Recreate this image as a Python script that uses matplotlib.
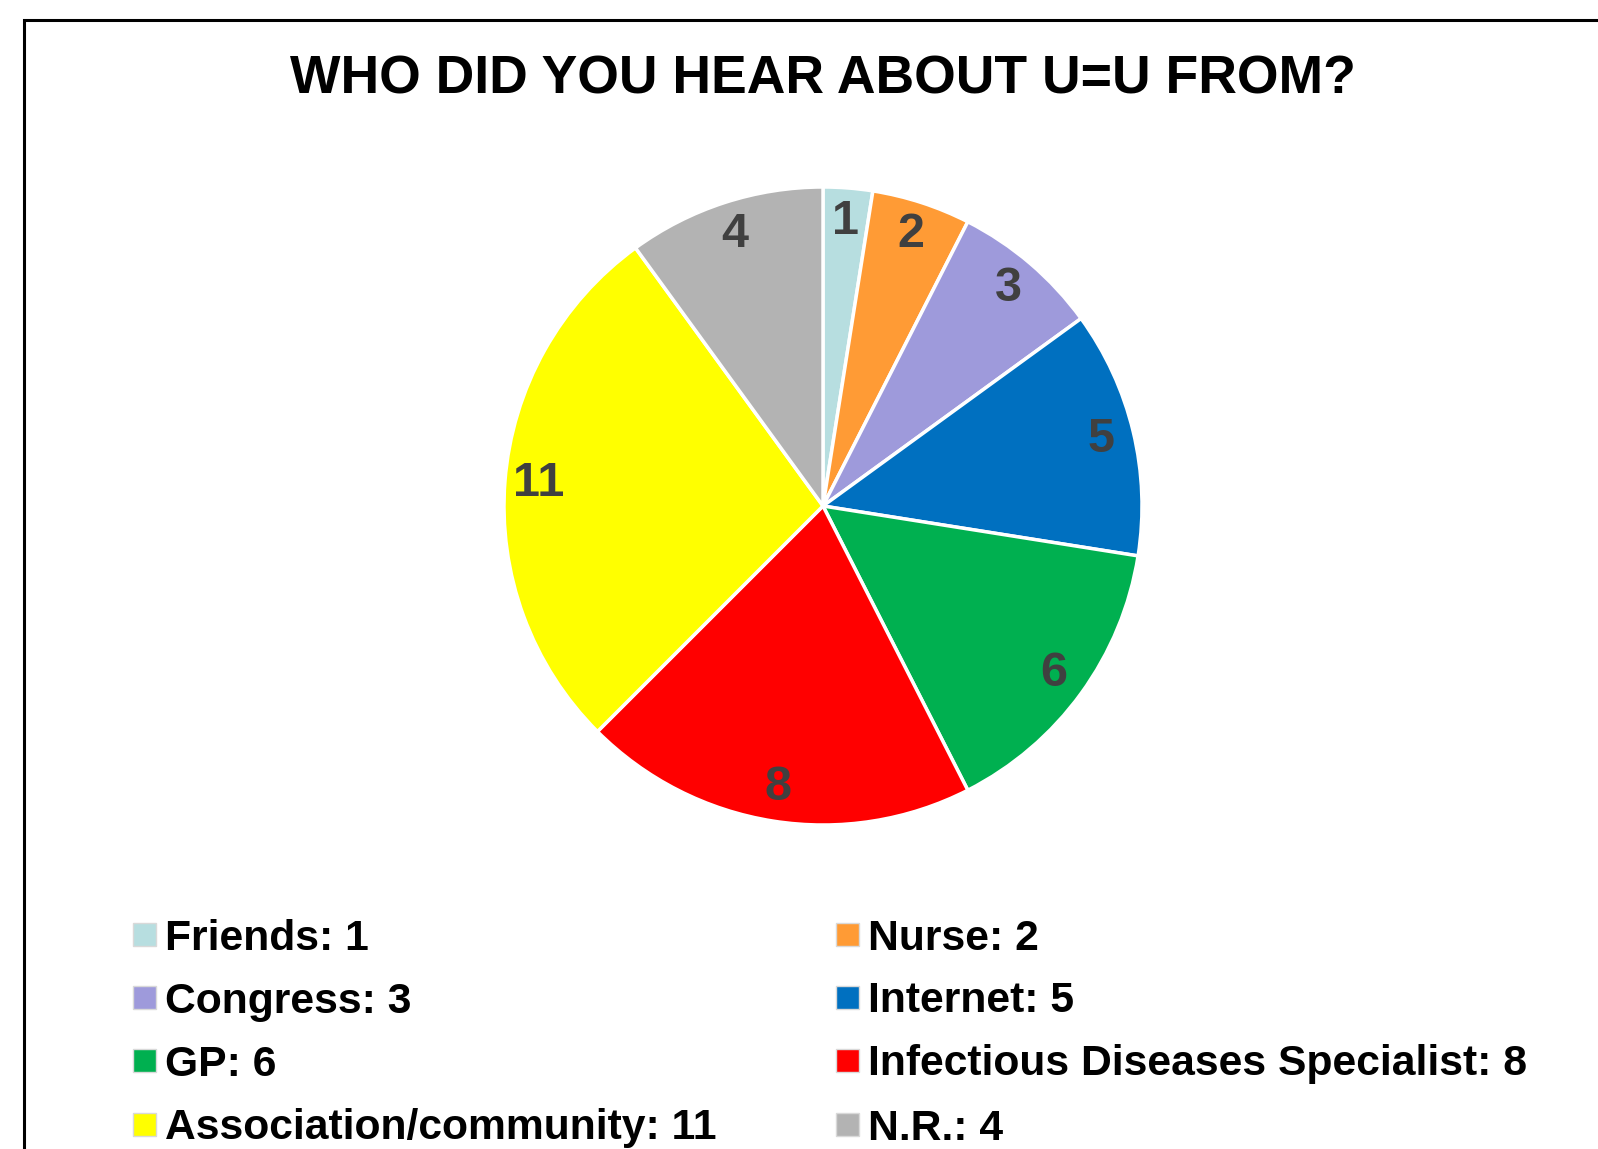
import matplotlib
matplotlib.use("Agg")
import matplotlib.pyplot as plt
from matplotlib.patches import Rectangle

# ----------------------------------------------------
# DATA
# ----------------------------------------------------
categories = ["Friends", "Nurse", "Congress", "Internet", "GP",
              "Infectious Diseases Specialist", "Association/community", "N.R."]
counts = [1, 2, 3, 5, 6, 8, 11, 4]
colors = ["#B7DEE0", "#FF9B35", "#9E9ADB", "#0070C0", "#00B050",
          "#FF0000", "#FFFF00", "#B3B3B3"]
title = "WHO DID YOU HEAR ABOUT U=U FROM?"

plt.rcParams["font.family"] = ["Liberation Sans", "DejaVu Sans"]

W, H = 1598, 1149
fig = plt.figure(figsize=(W / 100, H / 100), dpi=100)

# frame around the chart (runs off the right and bottom edge like the source)
fig.patches.append(Rectangle((24 / W, -0.05), 1.1, 1 - 20 / H + 0.05,
                             transform=fig.transFigure, fill=False,
                             edgecolor="black", linewidth=2.2))

# ----------------------------------------------------
# PIE
# ----------------------------------------------------
cx, cy, r = 823, 506, 319
ax = fig.add_axes([(cx - r) / W, 1 - (cy + r) / H, 2 * r / W, 2 * r / H])
wedges, texts = ax.pie(counts, colors=colors, startangle=90, counterclock=False,
                       labels=[str(c) for c in counts], labeldistance=0.895,
                       wedgeprops=dict(edgecolor="white", linewidth=2.5),
                       textprops=dict(fontsize=35, fontweight="bold", color="#404040",
                                      ha="center", va="center"))
ax.set_xlim(-1, 1)
ax.set_ylim(-1, 1)
ax.set_aspect("equal")
ax.axis("off")

fig.text(cx / W, 1 - 74 / H, title, ha="center", va="center_baseline",
         fontsize=38.5, fontweight="bold")

# ----------------------------------------------------
# LEGEND (two columns)
# ----------------------------------------------------
col_x = [133, 836]
row_y = [934, 997, 1060, 1124]
box = 23
for i, (name, val, col) in enumerate(zip(categories, counts, colors)):
    x0 = col_x[i % 2]
    y0 = row_y[i // 2]
    fig.patches.append(Rectangle((x0 / W, 1 - (y0 + box / 2) / H), box / W, box / H,
                                 transform=fig.transFigure, facecolor=col,
                                 edgecolor="#D9D9D9", linewidth=1))
    fig.text((x0 + box + 9) / W, 1 - y0 / H, f"{name}: {val}",
             ha="left", va="center_baseline", fontsize=30.7, fontweight="bold")

fig.savefig("out.png", dpi=100)
